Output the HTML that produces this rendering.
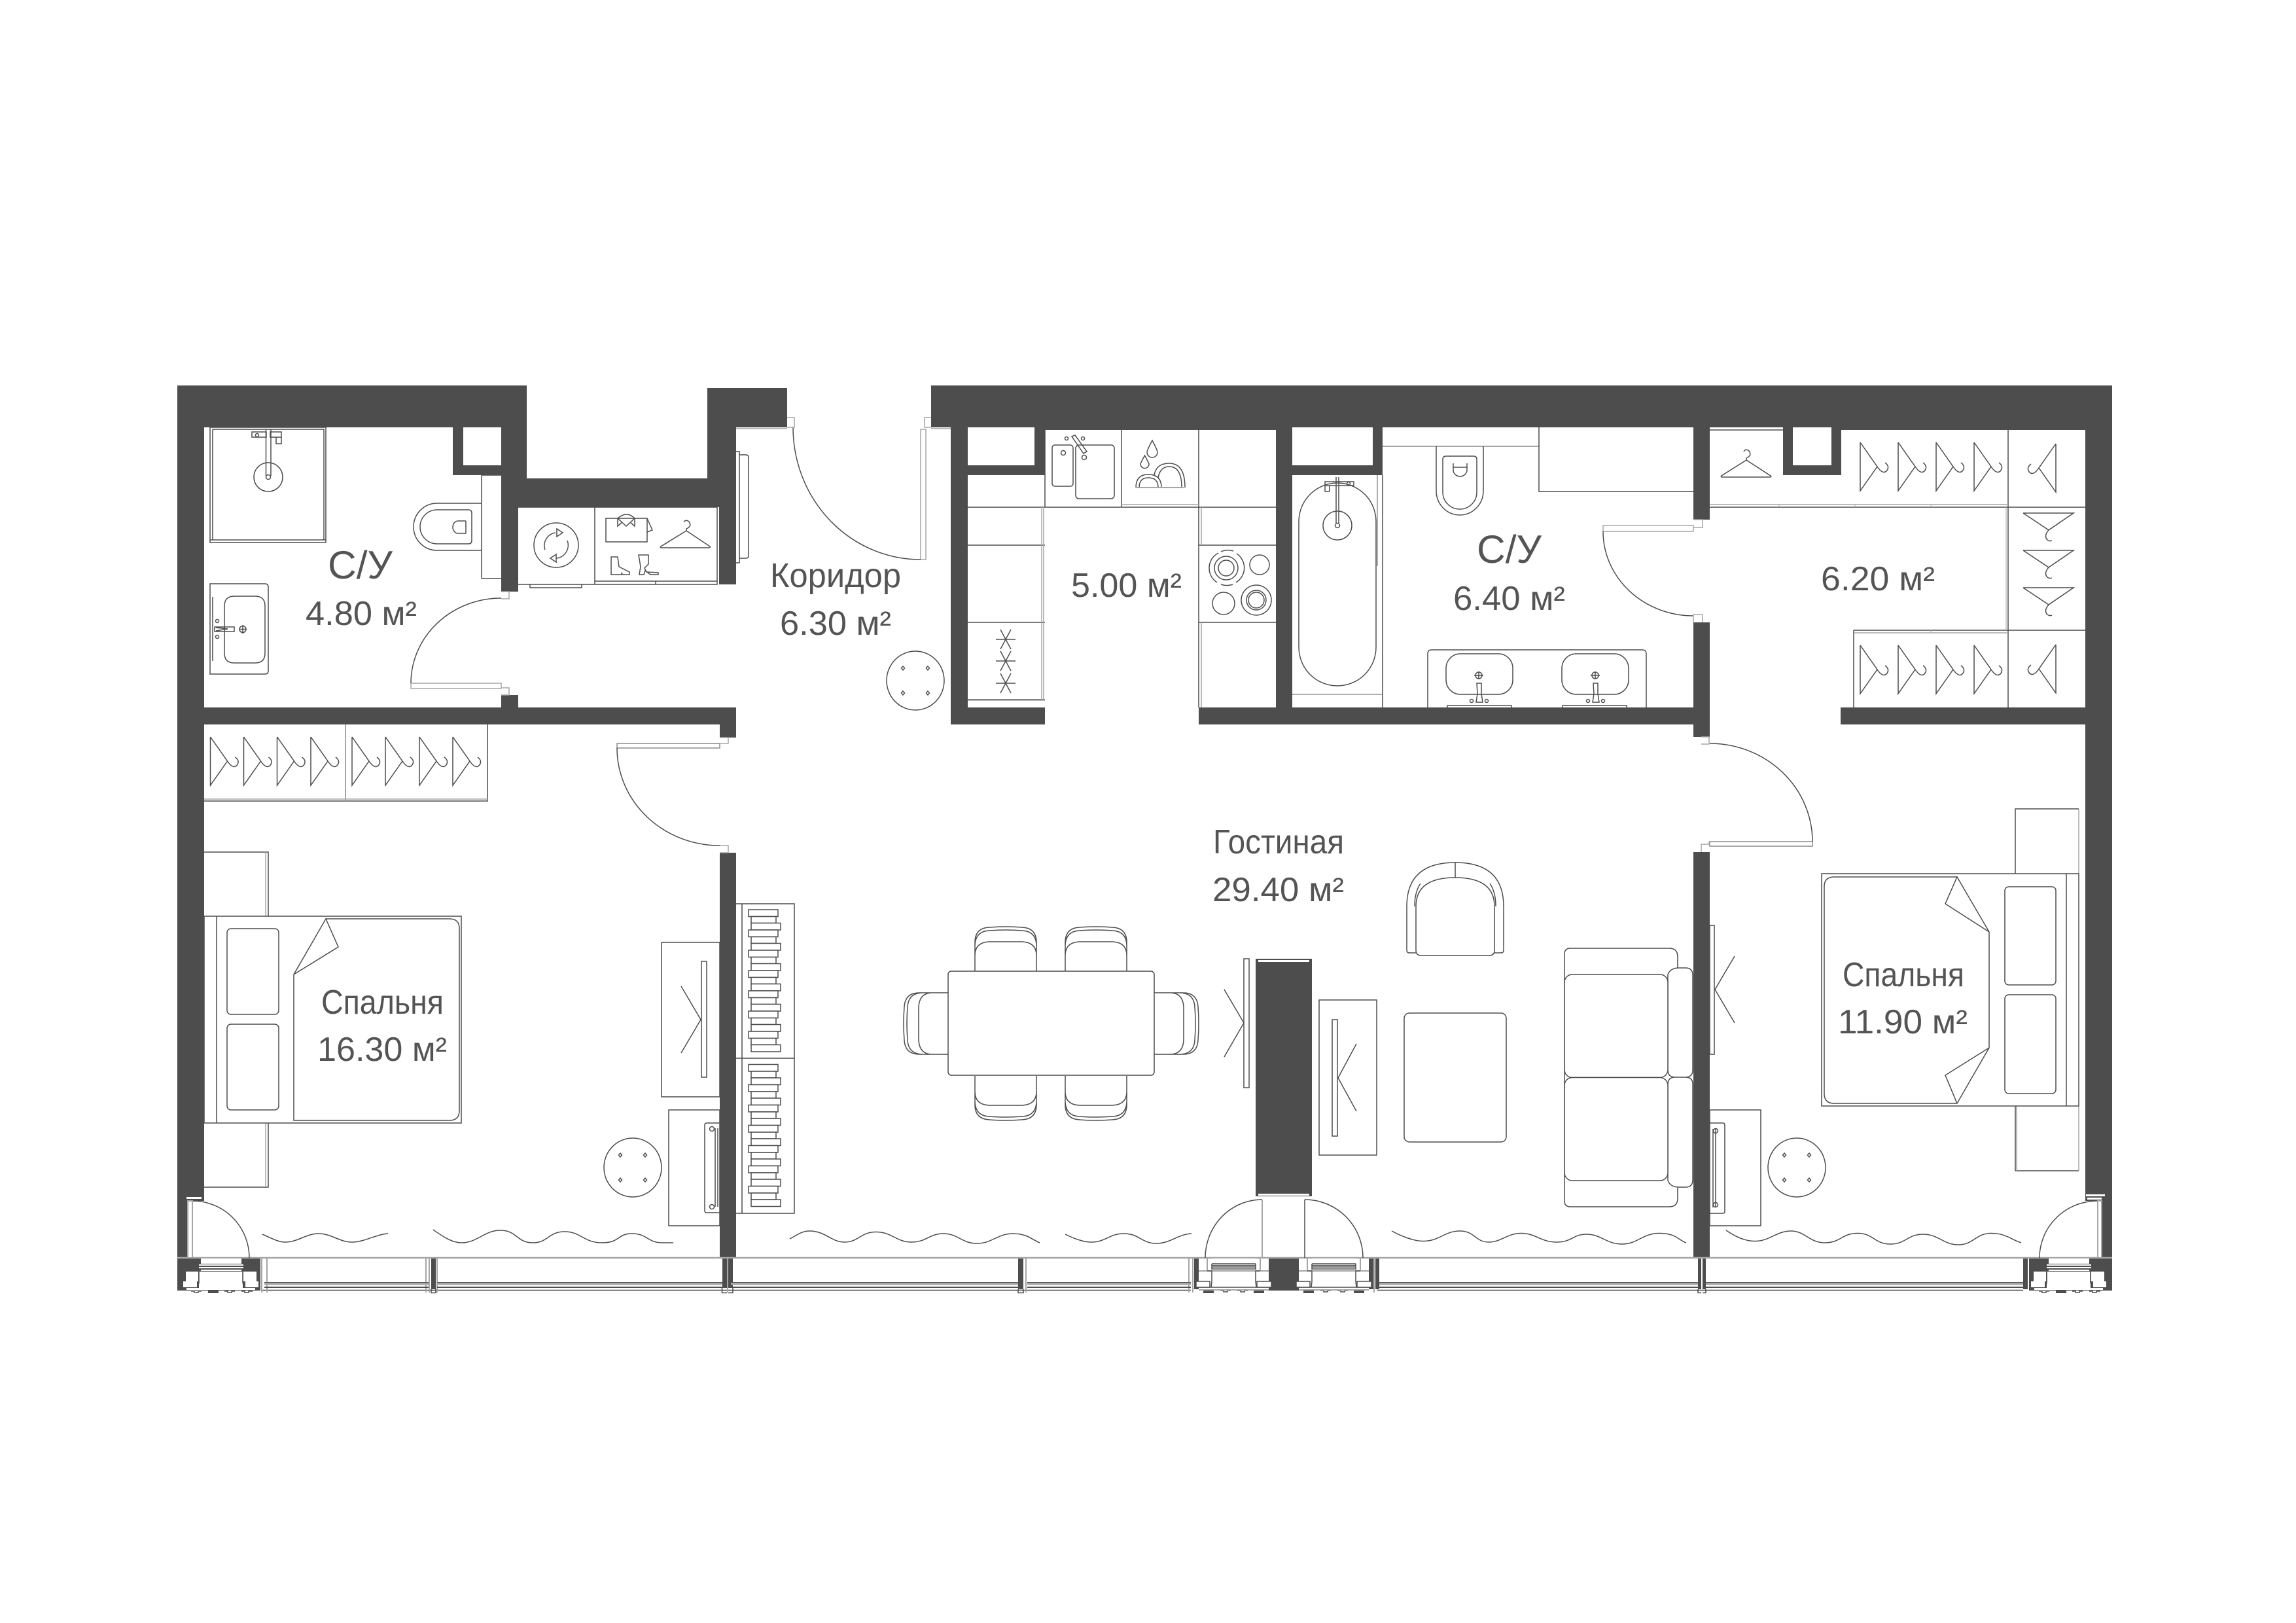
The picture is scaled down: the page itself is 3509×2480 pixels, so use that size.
<!DOCTYPE html>
<html><head><meta charset="utf-8"><style>
html,body{margin:0;padding:0;background:#fff}
svg{display:block}
text{font-family:"Liberation Sans",sans-serif;font-size:52px;fill:#545454}
.l{fill:none;stroke:#4d4d4d;stroke-width:1.5}
.g{fill:none;stroke:#a6a6a6;stroke-width:2}
.w{fill:#fff;stroke:#4d4d4d;stroke-width:1.5}
.d{fill:#4d4d4d;stroke:none}
.p{fill:#fff;stroke:none}
</style></head><body>
<svg width="3509" height="2480" viewBox="0 0 3509 2480" xmlns="http://www.w3.org/2000/svg">
<rect width="3509" height="2480" fill="#fff"/>
<defs>
<path id="h" class="l" d="M0 1L26 38L0 75V1M26 38Q34 50 40 45Q46 38 38 32"/>
<g id="stool"><ellipse class="l" rx="44" ry="45"/><path class="l" d="M-19 -22l2.500 3l-2.500 3l-2.500 -3zM19 -22l2.500 3l-2.500 3l-2.500 -3zM-19 16l2.500 3l-2.500 3l-2.500 -3zM19 16l2.500 3l-2.500 3l-2.500 -3z"/></g>
<g id="chair"><path class="l" d="M0 68V24Q0 2 22 1Q47 -1 72 1Q94 2 94 24V68M0 30Q0 7 22 6Q47 4 72 6Q94 7 94 30M0 44Q0 24 22 23H72Q94 24 94 44"/></g>
<g id="books"><rect class="w" x="1144" y="0" width="45" height="10.500"/><rect class="w" x="1148" y="10.500" width="38" height="10"/><rect class="w" x="1148" y="20.500" width="45" height="10.500"/></g>
<g id="ast"><path class="l" d="M-15 0H15M-8 -15L8 15M8 -15L-8 15"/></g>
<g id="base">
<rect class="p" x="36" y="1" width="62" height="8"/>
<rect class="p" x="33" y="10" width="68" height="2"/><rect class="p" x="33" y="14" width="68" height="2"/><rect class="p" x="36" y="18" width="62" height="2"/>
<rect class="p" x="33" y="21" width="67" height="25"/>
<rect class="p" x="13" y="21" width="19" height="15"/><rect class="p" x="101" y="21" width="20" height="15"/>
<rect class="p" x="9" y="36" width="21" height="9"/><rect class="p" x="104" y="36" width="20" height="9"/>
<path class="l" d="M33 21V38L31 46M100 21V38L103 46"/>
<rect class="p" x="14" y="46" width="105" height="3"/>
<path class="l" d="M21 51h5v2h6v-2h5M72 51h5v2h6v-2h5M98 51h5v2h6v-2h6"/>
<rect class="p" x="21" y="50" width="16" height="1"/><rect class="d" x="47" y="50" width="16" height="4"/>
</g>
<g id="baseW">
<rect class="g" x="20" y="0" width="81" height="20"/><rect class="p" x="27" y="1" width="67" height="18"/>
<path class="l" d="M27 9H94M27 11.500H94M27 14H94M27 17H94M27 9V18M94 9V18"/>
<path class="g" d="M7 20H20M101 20H114"/>
<path class="l" d="M20 20H27V36L26 45H95L94 36V20H101M7 45H114"/>
<rect class="w" x="3" y="36" width="21" height="9"/><rect class="w" x="96" y="36" width="22" height="9"/>
<rect class="d" x="14" y="49.500" width="16" height="4.500"/><rect class="d" x="91" y="49.500" width="16" height="4.500"/>
<path class="l" d="M40 50h5v2h6v-2h5M66 50h5v2h6v-2h5"/>
<path class="g" d="M7 49H114"/>
</g>
<g id="glass"><rect x="0" y="0" width="100" height="1" fill="#4d4d4d"/><rect x="0" y="1" width="100" height="3.500" fill="#a6a6a6"/><rect x="0" y="7" width="100" height="2" fill="#4d4d4d"/></g>
</defs>

<!-- WALLS -->
<g class="d">
<path d="M271 589H805V731H1081V593H1203V653H1125V893H1099V775H792V904H766V726H692V653H312V1835H287V1922H271Z"/>
<rect x="708" y="653" width="58" height="58" fill="#fff"/>
<rect x="312" y="1081" width="813" height="26"/>
<rect x="766" y="1062" width="26" height="19"/>
<rect x="1100" y="1107" width="25" height="20"/>
<rect x="1100" y="1303" width="25" height="619"/>
<!-- top right -->
<rect x="1423" y="589" width="1805" height="64"/>
<rect x="1597" y="653" width="353" height="4"/>
<rect x="2814" y="653" width="373" height="4"/>
<rect x="1453" y="653" width="26" height="454"/>
<rect x="1479" y="711" width="118" height="15"/>
<rect x="1581" y="653" width="16" height="73"/>
<rect x="1453" y="1081" width="144" height="26"/>
<rect x="1950" y="653" width="25" height="428"/>
<rect x="1975" y="711" width="138" height="15"/>
<rect x="2098" y="653" width="15" height="73"/>
<rect x="1832" y="1081" width="781" height="26"/>
<rect x="2588" y="653" width="25" height="141"/>
<rect x="2588" y="951" width="25" height="175"/>
<rect x="2725" y="653" width="15" height="73"/>
<rect x="2799" y="653" width="15" height="73"/>
<rect x="2725" y="711" width="89" height="15"/>
<rect x="2813" y="1081" width="374" height="26"/>
<rect x="3187" y="653" width="41" height="1182"/>
<rect x="3212" y="1835" width="16" height="87"/>
<rect x="2588" y="1302" width="25" height="620"/>
<rect x="1919" y="1465" width="86" height="363"/>
<rect x="271" y="1922" width="127" height="50"/>
<rect x="3101" y="1922" width="127" height="50"/>
<rect x="1939" y="1922" width="46" height="50"/>
<rect x="1825" y="1922" width="7" height="48"/><rect x="2092" y="1922" width="7" height="48"/><rect x="2102" y="1922" width="6" height="48"/>
<rect x="3092" y="1922" width="7" height="48"/>
<rect x="659" y="1922" width="7" height="48"/>
<rect x="1104" y="1922" width="7" height="46"/><rect x="1113" y="1922" width="7" height="46"/>
<rect x="1556" y="1922" width="8" height="48"/>
<rect x="2595" y="1922" width="5" height="48"/><rect x="2602" y="1922" width="5" height="48"/>
</g>
<rect x="1923" y="1467" width="78" height="3" fill="#fff"/><rect x="1923" y="1824" width="78" height="3" fill="#fff"/>
<rect x="285" y="1829" width="23" height="3" fill="#fff"/>
<rect x="3188" y="1825" width="29" height="3" fill="#fff"/><rect x="3190" y="1830" width="22" height="3" fill="#fff"/>

<!-- WINDOW LINES -->
<path d="M271 1922H3228" stroke="#a6a6a6" stroke-width="2.500" fill="none"/>
<path class="l" d="M400 1971.500H1820M2105 1971.500H3092"/>
<path class="g" d="M400 1922V1975M408 1922V1975M651 1922V1975M656 1922V1975M668 1922V1975M1112 1922V1975M1568 1922V1975M1817 1922V1975M1823 1922V1975M2100 1922V1975"/>
<path class="l" d="M1103.500 1968V1975.500H1111M1113 1975.500H1120V1968M659 1970V1975.500H666V1970M1556 1970V1975.500H1564V1970M2595 1970V1975.500H2600M2602 1975.500H2607V1970"/>
<use href="#glass" transform="translate(404,1959) scale(2.510,1)"/>
<use href="#glass" transform="translate(668,1959) scale(4.360,1)"/>
<use href="#glass" transform="translate(1117,1959) scale(4.390,1)"/>
<use href="#glass" transform="translate(1570,1959) scale(2.500,1)"/>
<use href="#glass" transform="translate(2108,1959) scale(4.870,1)"/>
<use href="#glass" transform="translate(2607,1959) scale(4.850,1)"/>
<use href="#base" transform="translate(271,1922)"/>
<use href="#base" transform="translate(3095,1922)"/>
<use href="#baseW" transform="translate(1825,1922)"/>
<use href="#baseW" transform="translate(1978,1922)"/>

<!-- DOORS -->
<path class="l" d="M294 1835A87 87 0 0 1 381 1922"/>
<rect x="287" y="1835" width="7" height="87" fill="#fff" stroke="#a6a6a6" stroke-width="2"/>
<path class="l" d="M3117 1922A89 87 0 0 1 3206 1835"/>
<rect x="3206" y="1835" width="6" height="87" fill="#fff" stroke="#a6a6a6" stroke-width="2"/>
<path class="l" d="M1842 1922A87 89 0 0 1 1929 1833"/><path class="g" d="M1929 1833V1922"/>
<path class="l" d="M1994 1833A89 89 0 0 1 2083 1922M1994 1833V1922"/>

<rect class="w" x="628" y="1044" width="138" height="8" style="stroke:#a6a6a6"/>
<path class="l" d="M628 1044A138 130 0 0 1 766 914"/>
<path class="g" d="M766 904h12v11h-12M766 1051h12v11h-12" style="stroke-width:1.500"/>
<rect class="w" x="943" y="1136" width="157" height="7" style="stroke:#8a8a8a"/>
<path class="l" d="M943 1143A157 149 0 0 0 1100 1292"/>
<path class="g" d="M1100 1127h13v9h-13M1100 1292h13v11h-13" style="stroke-width:1.500"/>
<rect class="w" x="1407" y="656" width="8" height="199" style="stroke:#a6a6a6"/>
<path class="l" d="M1212 653A195 202 0 0 0 1407 855"/>
<path class="g" d="M1203 638h11v15h-11M1423 638h-10v15h10M1125 655H1203M1423 655H1453" style="stroke-width:1.500"/>
<rect class="w" x="2450" y="803" width="138" height="9" style="stroke:#a6a6a6"/>
<path class="l" d="M2450 812A138 129 0 0 0 2588 941"/>
<path class="g" d="M2588 794h14v12h-14M2588 951v-12h14v12" style="stroke-width:1.500"/>
<rect class="w" x="2613" y="1286" width="157" height="7" style="stroke:#8a8a8a"/>
<path class="l" d="M2770 1286A157 150 0 0 0 2613 1136"/>
<path class="g" d="M2600 1126h12v11h-12M2600 1302v-12h12v-4" style="stroke-width:1.500"/>

<!-- BATH 4.80 -->
<rect class="l" x="321" y="653" width="177" height="176"/>
<path class="l" d="M325 656H495V825H325ZM321 825H498"/>
<path class="l" d="M406.500 656V727M414 656V727M385 660H407V668H385ZM413 660H430V668H413ZM422 668H430V678H422Z"/>
<circle class="l" cx="410" cy="729" r="22"/><circle class="l" cx="410" cy="729" r="3.500"/><circle class="l" cx="393" cy="665" r="2.500"/>
<path class="l" d="M736 769H668A36 36 0 0 0 668 841H736M736 726H766M736 884H766M736 726V884"/>
<path class="l" d="M716 779Q721 779 721 784V826Q721 831 716 831H668A26 26 0 0 1 668 779Z"/>
<path class="l" d="M712 796H700A8 9.500 0 0 0 700 815H712M712 796V815"/>
<path class="l" d="M321 892H405Q410 892 410 897V1025Q410 1030 405 1030H321ZM325 912V1010"/>
<path class="l" d="M358 911H390Q405 911 405 926V998Q405 1013 390 1013H358Q343 1013 343 998V926Q343 911 358 911Z"/>
<path class="l" d="M328 958H358V965H328ZM330 959L348 961L330 964"/>
<circle class="l" cx="371" cy="961.500" r="5"/><path class="l" d="M365 961.500H377M371 955V968"/>
<circle class="l" cx="332" cy="949" r="2.500"/><circle class="l" cx="332" cy="973" r="2.500"/>

<!-- WASHER CABINET -->
<path class="l" d="M792 775H1096V893H792M909 775V893M909 888H1096M1002 888V893M810 893V898H889V893"/>
<circle class="l" cx="850" cy="833" r="34"/>
<path class="l" d="M833 840A20 20 0 0 1 849 814M867 826A20 20 0 0 1 850 853"/>
<path class="l" d="M851 808L860 814L851 820ZM850 847L841 853L850 859Z"/>
<path class="l" d="M926 792H989V828H926ZM944 792Q958 780 970 792L957 804ZM944 792V804L951 798M970 792V804L963 798M989 792L997 810L989 813"/>
<path class="l" d="M1049 811V808Q1058 804 1053 797Q1048 793 1045 798M1049 811L1085 835Q1086 837 1083 837H1011Q1008 837 1010 835L1049 811"/>
<path class="l" d="M934 851H944L946 866L962 874V878H952L950 876V878H934Z"/>
<path class="l" d="M976 848H991V862L985 868L988 874L1006 875V878H994L986 872L984 878H977L979 866Z"/>
<path class="l" d="M1125 690H1130V860H1125M1130 695H1140Q1144 695 1144 699V849Q1144 853 1140 853H1130"/>

<!-- KITCHEN -->
<path class="l" d="M1479 775H1950M1597 657V775M1714 657V775M1832 657V775M1479 833H1597M1479 951H1597M1832 833H1950M1832 951H1950M1832 775V1081M1479 1069H1597"/>
<path class="g" d="M1592 775V1069M1595 775V1069M1836 775V833M1836 951V1081M1714 771H1832M1479 1070H1597" style="stroke-width:1.500"/>
<rect class="l" x="1608" y="680" width="32" height="63" rx="4"/>
<rect class="l" x="1644" y="680" width="59" height="82" rx="5"/>
<circle class="l" cx="1625" cy="692" r="3.500"/><circle class="l" cx="1657" cy="699" r="3.500"/>
<circle class="l" cx="1630" cy="670" r="2.500"/><circle class="l" cx="1655" cy="670" r="2.500"/>
<path class="l" d="M1638 667L1643 665L1661 690L1656 693Z"/>
<path class="l" d="M1761 673Q1769 688 1769 691A8 8 0 0 1 1753 691Q1753 688 1761 673ZM1749.500 696Q1756 708 1756 709A6.500 6.500 0 0 1 1743 709Q1743 708 1749.500 696Z"/>
<path class="l" d="M1736 745Q1736 725 1755 725Q1775 725 1775 745M1741 745Q1741 730 1755 730Q1770 730 1770 745M1764 726Q1767 708 1787 708Q1811 708 1811 745M1770 730Q1773 713 1787 713Q1806 713 1806 745"/>
<path d="M1736 745H1809" stroke="#a6a6a6" stroke-width="2"/>
<use href="#ast" x="1537" y="977"/>
<use href="#ast" x="1537" y="1010"/>
<use href="#ast" x="1537" y="1044"/>
<circle class="l" cx="1874" cy="868" r="18"/><circle class="l" cx="1874" cy="868" r="12"/>
<path class="l" d="M1885 842A26 26 0 0 0 1866 843M1862 845A26 26 0 0 0 1860 890M1866 893A26 26 0 0 0 1884 893M1889 890A26 26 0 0 0 1890 846"/>
<circle class="l" cx="1925" cy="863" r="15"/><circle class="l" cx="1870" cy="922" r="17"/>
<circle class="l" cx="1920" cy="917" r="23"/><circle class="l" cx="1920" cy="917" r="15"/><circle class="l" cx="1920" cy="917" r="12"/>
<use href="#stool" x="1399" y="1040"/>

<!-- BATH 6.40 -->
<rect class="l" x="1985" y="738" width="118" height="310" rx="59"/>
<path class="g" d="M1975 1061H2113M2105 726V865" style="stroke-width:1.800"/>
<path class="l" d="M2113 726V1081M2042 729V799M2046 729V799M2025 736H2069V742H2025ZM2025 742H2032V751H2025Z"/>
<circle class="l" cx="2044" cy="803" r="22"/><circle class="l" cx="2044" cy="803" r="3.500"/><circle class="l" cx="2061" cy="739" r="2.500"/>
<path class="g" d="M2113 682H2352" style="stroke-width:2"/>
<path class="l" d="M2352 653V751H2588M2195 682V750A36 37 0 0 0 2267 750V682"/>
<path class="l" d="M2205 702Q2205 697 2210 697H2252Q2257 697 2257 702V752A26 26 0 0 1 2205 752Z"/>
<path class="l" d="M2221 708V718A10.500 10 0 0 0 2242 718V708M2221 714H2242"/>
<path class="l" d="M2182 1081V999Q2182 993 2188 993H2510Q2516 993 2516 999V1081"/>
<rect class="l" x="2210" y="999" width="102" height="62" rx="22"/>
<rect class="l" x="2387" y="999" width="102" height="62" rx="22"/>
<path class="l" d="M2212 1081V1078H2310V1081M2388 1081V1078H2486V1081"/>
<path class="l" d="M2257 1044H2264V1060L2266 1073H2256L2258 1060ZM2435 1044H2442V1060L2444 1073H2434L2436 1060Z"/>
<circle class="l" cx="2260" cy="1032" r="5"/><path class="l" d="M2253 1032H2267M2260 1026V1038"/>
<circle class="l" cx="2438" cy="1032" r="5"/><path class="l" d="M2431 1032H2445M2438 1026V1038"/>
<circle class="l" cx="2249" cy="1071" r="2.500"/><circle class="l" cx="2272" cy="1071" r="2.500"/>
<circle class="l" cx="2427" cy="1071" r="2.500"/><circle class="l" cx="2450" cy="1071" r="2.500"/>

<!-- DRESSING -->
<path class="l" d="M2613 657H2725M2613 775H3187M3069 657V1081M3069 963H3187M2833 963H3069M2833 963V1081"/>
<path class="g" d="M2613 771H3069M2833 967H3069" style="stroke-width:1.500"/>
<path class="g" d="M2719 771V775M2835 771V775M2951 771V775M2951 963V967M3066 775V963" style="stroke-width:1"/>
<path class="l" d="M2669 703V700Q2678 696 2673 689Q2668 685 2665 690M2669 703L2706 727Q2708 729 2705 729H2632Q2629 729 2631 727L2669 703"/>
<use href="#h" x="2843" y="675"/><use href="#h" x="2901" y="675"/><use href="#h" x="2959" y="675"/><use href="#h" x="3017" y="675"/>
<use href="#h" x="2843" y="985"/><use href="#h" x="2901" y="985"/><use href="#h" x="2959" y="985"/><use href="#h" x="3017" y="985"/>
<use href="#h" transform="translate(3142,677) scale(-1,1)"/>
<use href="#h" transform="translate(3142,984) scale(-1,1)"/>
<path class="l" d="M3092 784H3169L3131 810Q3124 818 3128 824Q3132 828 3136 826M3092 784L3131 810"/>
<path class="l" d="M3092 841H3169L3131 867Q3124 875 3128 881Q3132 885 3136 883M3092 841L3131 867"/>
<path class="l" d="M3092 898H3169L3131 924Q3124 932 3128 938Q3132 942 3136 940M3092 898L3131 924"/>

<!-- BEDROOM 1 -->
<path class="l" d="M312 1224H745V1107M528 1107V1224"/>
<path class="g" d="M312 1221H745M528 1107V1224" style="stroke-width:1.500"/>
<use href="#h" x="321.500" y="1125"/><use href="#h" x="372.500" y="1125"/><use href="#h" x="423.500" y="1125"/><use href="#h" x="475" y="1125"/>
<use href="#h" x="538" y="1125"/><use href="#h" x="589" y="1125"/><use href="#h" x="641" y="1125"/><use href="#h" x="692" y="1125"/>
<path class="l" d="M312 1302H410V1400M312 1814H410V1716"/>
<path class="g" d="M406 1302V1400M406 1716V1814" style="stroke-width:1.500"/>
<rect class="w" x="312" y="1400" width="393" height="316"/>
<path class="l" d="M331 1400V1716"/>
<path class="l" d="M498 1404H687Q702 1404 702 1419V1697Q702 1712 687 1712H449V1489L498 1404L517 1447L449 1489"/>
<rect class="l" x="347" y="1419" width="79" height="131" rx="6"/>
<rect class="l" x="347" y="1565" width="79" height="131" rx="6"/>
<rect class="l" x="1011" y="1440" width="89" height="236"/>
<rect class="l" x="1072" y="1469" width="8" height="177"/>
<path class="l" d="M1041 1507L1071 1558L1041 1609"/>
<rect class="l" x="1022" y="1696" width="78" height="177"/>
<path class="l" d="M1100 1716H1080Q1077 1716 1077 1719V1850Q1077 1853 1080 1853H1100M1093 1724V1844M1097 1724V1844"/>
<circle class="l" cx="1088" cy="1725" r="3.500"/><circle class="l" cx="1088" cy="1844" r="3.500"/>
<use href="#stool" x="967" y="1784"/>
<!-- curtains -->
<path class="l" d="M401 1886C415 1892 425 1898 436 1898C455 1898 468 1885 487 1885S519 1898 538 1898S575 1886 593 1885"/>
<path class="l" d="M662 1879C675 1888 690 1899 705 1899C730 1899 740 1880 765 1880S790 1899 814 1899S838 1882 863 1882S892 1899 920 1899S943 1885 966 1885S990 1899 1012 1899S1024 1899 1029 1899"/>
<path class="l" d="M1207 1893C1217 1888 1225 1881 1237 1881C1262 1881 1270 1898 1291 1898S1315 1882.500 1339 1882.500S1370 1898 1393 1898S1420 1885 1442 1885S1470 1900 1493 1900S1525 1885 1548 1885S1578 1895 1589 1899"/>
<path class="l" d="M1628 1886C1640 1892 1655 1898 1668 1898C1690 1898 1695 1885 1718 1885S1745 1900 1767 1900S1800 1886 1821 1885"/>
<path class="l" d="M2127 1881C2140 1888 2160 1896.500 2175 1896.500C2200 1896.500 2208 1881 2231 1881S2255 1898 2275 1898S2303 1884.500 2325 1884.500S2355 1898 2379 1898S2403 1886 2425 1886S2455 1901 2479 1901S2510 1884.500 2536 1884.500S2565 1895 2577 1899"/>
<path class="l" d="M2638 1880C2650 1888 2665 1896.500 2682 1896.500C2705 1896.500 2715 1881 2737 1881S2765 1899 2789 1899S2815 1884.500 2839 1884.500S2865 1901 2889 1901S2915 1886 2939 1886S2970 1902 2993 1902S3020 1884.500 3043 1884.500S3075 1895 3089 1899"/>

<!-- BOOKSHELF -->
<path class="l" d="M1125 1381H1214V1854H1125M1134 1381V1854M1125 1617H1214"/>
<use href="#books" y="1390"/><use href="#books" y="1421"/><use href="#books" y="1452"/><use href="#books" y="1483"/><use href="#books" y="1514"/><use href="#books" y="1545"/><use href="#books" y="1576"/>
<use href="#books" y="1626.500"/><use href="#books" y="1657.500"/><use href="#books" y="1688.500"/><use href="#books" y="1719.500"/><use href="#books" y="1750.500"/><use href="#books" y="1781.500"/><use href="#books" y="1812.500"/>

<!-- DINING -->
<use href="#chair" transform="translate(1490,1416)"/>
<use href="#chair" transform="translate(1628,1416)"/>
<use href="#chair" transform="translate(1490,1712) scale(1,-1)"/>
<use href="#chair" transform="translate(1628,1712) scale(1,-1)"/>
<use href="#chair" transform="translate(1381,1611) rotate(-90)"/>
<use href="#chair" transform="translate(1832,1517) rotate(90)"/>
<rect class="w" x="1449" y="1484" width="315" height="159" rx="5"/>
<rect class="l" x="1901" y="1465" width="8" height="197"/>
<path class="l" d="M1871 1512L1901 1563L1871 1615"/>
<rect class="l" x="2016" y="1528" width="88" height="237"/>
<rect class="l" x="2036" y="1558" width="8" height="178"/>
<path class="l" d="M2073 1595L2045 1647L2073 1698"/>

<!-- LIVING -->
<path class="l" d="M2164 1456H2154Q2150 1456 2150 1452V1385Q2150 1318 2224 1318Q2298 1318 2298 1385V1452Q2298 1456 2294 1456H2284M2224 1318V1341"/>
<path class="l" d="M2164 1385Q2164 1341 2224 1341Q2284 1341 2284 1385V1452Q2284 1460 2276 1460H2172Q2164 1460 2164 1452ZM2162 1385Q2162 1363 2171 1350M2286 1385Q2286 1363 2277 1350"/>
<rect class="l" x="2146" y="1548" width="156" height="197" rx="8"/>
<path class="l" d="M2549 1489Q2553 1479 2566 1479H2576Q2587 1479 2587 1490V1635Q2587 1646 2576 1646H2560Q2549 1646 2549 1635ZM2549 1657Q2549 1646 2560 1646H2576Q2587 1646 2587 1657V1803Q2587 1814 2576 1814H2566Q2553 1814 2549 1804Z"/>
<path class="l" d="M2564 1479V1462Q2564 1449 2551 1449H2400Q2391 1449 2391 1458V1835Q2391 1844 2400 1844H2551Q2564 1844 2564 1831V1814"/>
<rect class="w" x="2391" y="1489" width="158" height="157.500" rx="12"/>
<rect class="w" x="2391" y="1646.500" width="158" height="157.500" rx="12"/>

<!-- BEDROOM 2 -->
<rect class="l" x="2613" y="1414" width="7" height="197"/>
<path class="l" d="M2651 1461L2621 1512L2651 1563"/>
<rect class="l" x="2613" y="1696" width="78" height="177"/>
<path class="l" d="M2613 1716H2633Q2636 1716 2636 1719V1851Q2636 1854 2633 1854H2613M2618 1725V1845M2622 1725V1845"/>
<circle class="l" cx="2622" cy="1728" r="3.500"/><circle class="l" cx="2622" cy="1841" r="3.500"/>
<use href="#stool" x="2746" y="1784"/>
<path class="l" d="M3177 1236H3080V1335M3177 1789H3080V1690"/>
<path class="g" d="M3177 1236V1335M3177 1690V1789M3082 1789V1690" style="stroke-width:1.500"/>
<rect class="w" x="2784" y="1335" width="393" height="355"/>
<path class="l" d="M3158 1335V1690"/>
<path class="l" d="M2991 1340H2803Q2788 1340 2788 1355V1671Q2788 1686 2803 1686H2991L3040 1601V1424L2991 1340L2973 1381L3040 1424M3040 1601L2973 1643L2991 1686"/>
<rect class="l" x="3064" y="1355" width="78" height="150" rx="6"/>
<rect class="l" x="3064" y="1520" width="78" height="151" rx="6"/>

<!-- LABELS -->
<text x="501" y="884" textLength="99" lengthAdjust="spacingAndGlyphs" style="font-size:60px">С/У</text>
<text x="467" y="955" textLength="170" lengthAdjust="spacingAndGlyphs">4.80 м²</text>
<text x="1177" y="897" textLength="200" lengthAdjust="spacingAndGlyphs">Коридор</text>
<text x="1192" y="970" textLength="170" lengthAdjust="spacingAndGlyphs">6.30 м²</text>
<text x="1637" y="912" textLength="169" lengthAdjust="spacingAndGlyphs">5.00 м²</text>
<text x="2257" y="860" textLength="99" lengthAdjust="spacingAndGlyphs" style="font-size:60px">С/У</text>
<text x="2221" y="932" textLength="171" lengthAdjust="spacingAndGlyphs">6.40 м²</text>
<text x="2783" y="902" textLength="174" lengthAdjust="spacingAndGlyphs">6.20 м²</text>
<text x="491" y="1549" textLength="187" lengthAdjust="spacingAndGlyphs">Спальня</text>
<text x="485" y="1621" textLength="198" lengthAdjust="spacingAndGlyphs">16.30 м²</text>
<text x="1854" y="1304" textLength="200" lengthAdjust="spacingAndGlyphs">Гостиная</text>
<text x="1853" y="1377" textLength="201" lengthAdjust="spacingAndGlyphs">29.40 м²</text>
<text x="2816" y="1507" textLength="186" lengthAdjust="spacingAndGlyphs">Спальня</text>
<text x="2809" y="1579" textLength="198" lengthAdjust="spacingAndGlyphs">11.90 м²</text>
</svg>
</body></html>
